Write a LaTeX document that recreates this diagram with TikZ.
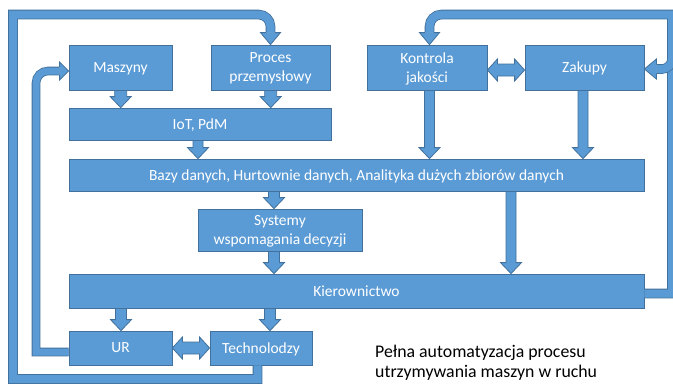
\documentclass[tikz,border=0pt]{standalone}
\usepackage{fontspec}
\setmainfont{Carlito}
\usetikzlibrary{calc}

\definecolor{blk}{HTML}{5B9BD5}
\definecolor{blkline}{HTML}{41719C}

\tikzset{
  box/.style={draw=blkline, fill=blk, line width=0.8pt, text=white, align=center,
    inner sep=0pt, text depth=0pt, font=\fontsize{15.5}{19}\selectfont},
  block/.style={draw=blkline, fill=blk, line width=0.8pt, line join=miter},
  pipe/.style={draw=blkline, line width=0.8pt, double=blk, double distance=8pt, line join=miter},
  pipeB/.style={pipe, double distance=7pt},
  headline/.style={draw=blkline, line width=0.8pt, line join=miter},
  note/.style={anchor=north west, align=left, inner sep=0pt, text=black,
    font=\fontsize{17.8}{20}\selectfont}
}

% fat arrow pointing down from the bottom of #1 to the top of #2, shaft at x=#3, half width #4
\newcommand\downblock[4]{%
  \path[block] let \p1=(#1.south), \p2=(#2.north) in
    (#3pt-#4pt,\y1) -- (#3pt-#4pt,\y2+11pt) -- (#3pt-10.5pt,\y2+11pt) -- (#3pt,\y2)
    -- (#3pt+10.5pt,\y2+11pt) -- (#3pt+#4pt,\y2+11pt) -- (#3pt+#4pt,\y1) -- cycle;}

% fat two-headed arrow between the east side of #1 and the west side of #2, at y=#3
\newcommand\twoway[3]{%
  \path[block] let \p1=(#1.east), \p2=(#2.west) in
    (\x1,-#3pt) -- (\x1+10pt,-#3pt+11pt) -- (\x1+10pt,-#3pt+6pt) -- (\x2-10pt,-#3pt+6pt)
    -- (\x2-10pt,-#3pt+11pt) -- (\x2,-#3pt) -- (\x2-10pt,-#3pt-11pt) -- (\x2-10pt,-#3pt-6pt)
    -- (\x1+10pt,-#3pt-6pt) -- (\x1+10pt,-#3pt-11pt) -- cycle;}

% heads closing the feedback pipes (tip at #1)
\newcommand\pipeheadS[1]{%
  \fill[blk] (#1) -- ++(-10,-12) -- ++(20,0) -- cycle;
  \draw[headline] (#1) ++(-4.4,-12) -- ++(-5.6,0) -- (#1) -- ++(10,-12) -- ++(-5.6,0);}
\newcommand\pipeheadE[1]{%
  \fill[blk] (#1) -- ++(-9,-9) -- ++(0,18) -- cycle;
  \draw[headline] (#1) ++(-9,-3.9) -- ++(0,-5.1) -- (#1) -- ++(-9,9) -- ++(0,-5.1);}
\newcommand\pipeheadW[1]{%
  \fill[blk] (#1) -- ++(12,-10) -- ++(0,20) -- cycle;
  \draw[headline] (#1) ++(12,-4.4) -- ++(0,-5.6) -- (#1) -- ++(12,10) -- ++(0,-5.6);}

\begin{document}
\begin{tikzpicture}[x=1pt, y=-1pt]
  \fill[white] (0,0) rectangle (673,384);
  \useasboundingbox (0,0) rectangle (673,384);

  % blocks
  \node[box, minimum width=103pt, minimum height=45pt] (maszyny)  at (120.5,67.5) {Maszyny};
  \node[box, minimum width=119pt, minimum height=45pt] (proces)   at (270.5,67.5) {Proces\\przemysłowy};
  \node[box, minimum width=120pt, minimum height=45pt] (kontrola) at (427,67.5)   {Kontrola\\jakości};
  \node[box, minimum width=119pt, minimum height=45pt] (zakupy)   at (584.5,67.5) {Zakupy};
  \node[box, minimum width=262pt, minimum height=32pt] (iot)      at (200,124)    {IoT, PdM};
  \node[box, minimum width=575pt, minimum height=32pt] (bazy)     at (356.5,175)
    {Bazy danych, Hurtownie danych, Analityka dużych zbiorów danych};
  \node[box, minimum width=164pt, minimum height=42pt] (systemy)  at (280,230)    {Systemy\\wspomagania decyzji};
  \node[box, minimum width=575pt, minimum height=34pt] (kier)     at (356.5,291)  {Kierownictwo};
  \node[box, minimum width=103pt, minimum height=34pt] (ur)       at (120.5,348)  {UR};
  \node[box, minimum width=102pt, minimum height=34pt] (tech)     at (261,348)    {Technolodzy};

  % feedback: Technolodzy -> Proces przemysłowy
  \draw[pipe] (tech.south -| 257.5,0) -- (257.5,379) -- (13,379) -- (13,14.5)
    [rounded corners=12pt] -- (proces.north |- 0,14.5) -- ($(proces.north)+(0,-12)$);
  \pipeheadS{proces.north}

  % feedback: UR -> Maszyny
  \draw[pipeB] ($(ur.west)+(0,4)$) -- (36,352)
    [rounded corners=12pt] -- (36,71) -- ($(maszyny.west)+(-9,3.5)$);
  \pipeheadE{$(maszyny.west)+(0,3.5)$}

  % feedback: Kierownictwo -> Kontrola jakości and Zakupy
  \coordinate (kin) at ($(kontrola.north)+(2.5,0)$);
  \draw[pipe] ($(kier.east)+(0,2.5)$) -- (672,293.5) -- (672,14.5)
    [rounded corners=12pt] -- (kin |- 0,14.5) -- ($(kin)+(0,-12)$);
  \pipeheadS{kin}
  \draw[pipe] (672,40) [rounded corners=10pt] -- (672,69) -- ($(zakupy.east)+(12,1.5)$);
  \pipeheadW{$(zakupy.east)+(0,1.5)$}

  % main flow
  \downblock{maszyny}{iot}{120.7}{6}
  \downblock{proces}{iot}{270.7}{6}
  \downblock{iot}{bazy}{198}{5}
  \downblock{kontrola}{bazy}{429.5}{5}
  \downblock{zakupy}{bazy}{583}{5}
  \downblock{bazy}{systemy}{274}{5.5}
  \downblock{systemy}{kier}{274}{5.5}
  \downblock{bazy}{kier}{511}{5}
  \downblock{kier}{ur}{121}{5.5}
  \downblock{kier}{tech}{270}{5.5}
  \twoway{ur}{tech}{348}
  \twoway{kontrola}{zakupy}{70}

  \node[note] (opis) at (375,345) {Pełna automatyzacja procesu\\utrzymywania maszyn w ruchu};
\end{tikzpicture}
\end{document}
